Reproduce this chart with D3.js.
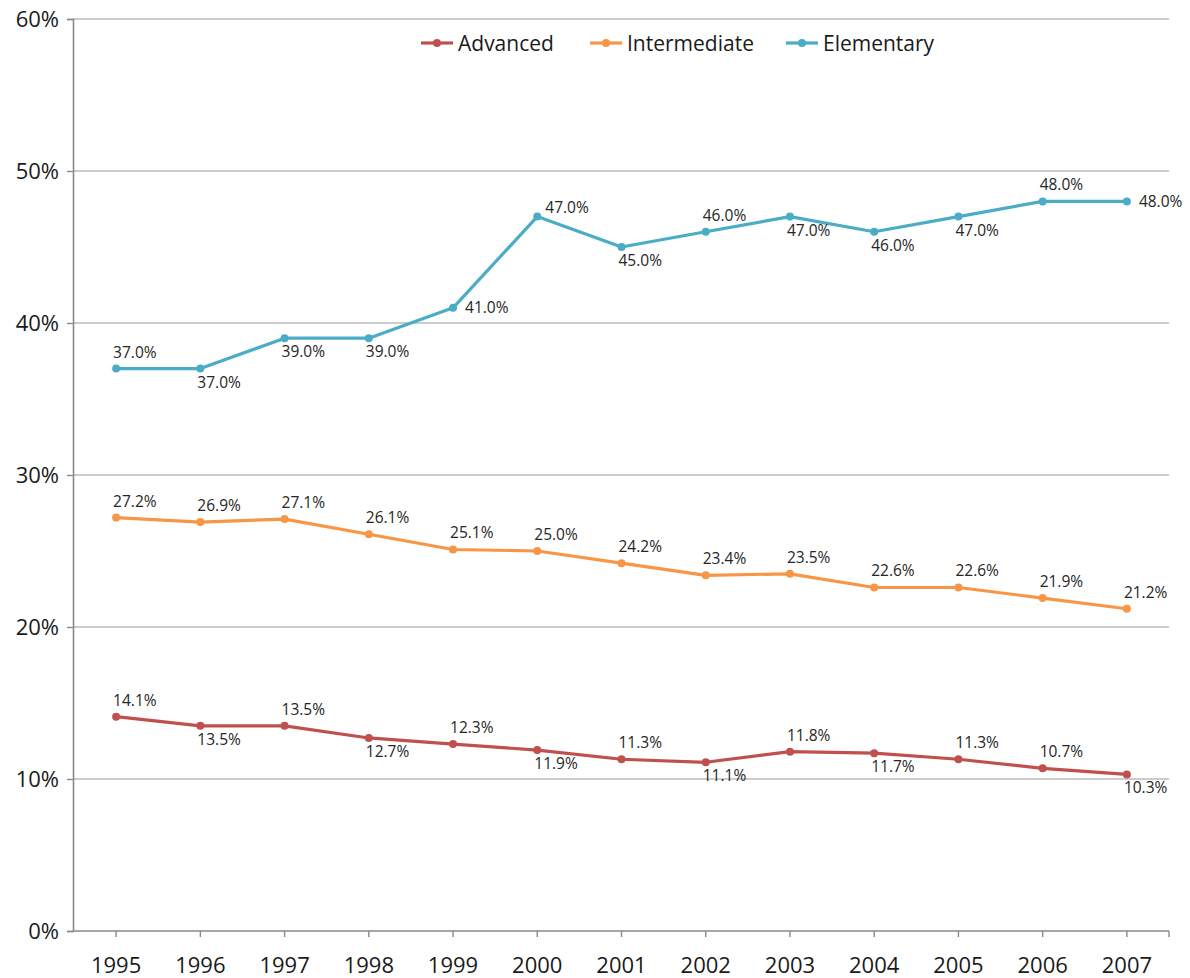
<!DOCTYPE html>
<html>
<head>
<meta charset="utf-8">
<script src="https://cdn.jsdelivr.net/npm/d3@7"></script>
<style>
  html, body { margin: 0; padding: 0; background: #fff; }
  svg { display: block; font-family: "Open Sans", "Noto Sans", sans-serif; }
</style>
</head>
<body>
<svg id="chart" width="1190" height="978"></svg>
<script>
const years = ["1995","1996","1997","1998","1999","2000","2001","2002","2003","2004","2005","2006","2007"];
const seriesNames = ["Advanced", "Intermediate", "Elementary"];
const advanced     = [14.1, 13.5, 13.5, 12.7, 12.3, 11.9, 11.3, 11.1, 11.8, 11.7, 11.3, 10.7, 10.3];
const intermediate = [27.2, 26.9, 27.1, 26.1, 25.1, 25.0, 24.2, 23.4, 23.5, 22.6, 22.6, 21.9, 21.2];
const elementary   = [37.0, 37.0, 39.0, 39.0, 41.0, 47.0, 45.0, 46.0, 47.0, 46.0, 47.0, 48.0, 48.0];
// label placement: t = above, b = below, r = right, tr = upper right
const advancedLabelPos     = ["t","b","t","b","t","b","t","b","t","b","t","t","b"];
const intermediateLabelPos = ["t","t","t","t","t","t","t","t","t","t","t","t","t"];
const elementaryLabelPos   = ["t","b","b","b","r","tr","b","t","b","b","b","t","r"];
const yTicks = [0, 10, 20, 30, 40, 50, 60];
const colors = ["#C0504D", "#F79646", "#4BACC6"];

(function () {
const series = [
  { name: seriesNames[0], values: advanced, pos: advancedLabelPos, color: colors[0] },
  { name: seriesNames[1], values: intermediate, pos: intermediateLabelPos, color: colors[1] },
  { name: seriesNames[2], values: elementary, pos: elementaryLabelPos, color: colors[2] }
];

const svg = d3.select("#chart");
const mLeft = 73, mRight = 1169, mTop = 19, mBottom = 931;

const x = d3.scaleBand().domain(years).range([mLeft + 1, mRight]).padding(0);
const cx = d => x(d) + x.bandwidth() / 2;
const y = d3.scaleLinear().domain([0, 60]).range([mBottom, mTop]);

// gridlines
svg.append("g").selectAll("line").data(yTicks.filter(t => t > 0)).join("line")
  .attr("x1", mLeft).attr("x2", mRight)
  .attr("y1", d => y(d)).attr("y2", d => y(d))
  .attr("stroke", "#9a9a9a").attr("stroke-width", 1.2);

// y axis
const yAxis = d3.axisLeft(y).tickValues(yTicks).tickFormat(d => d + "%").tickSize(6).tickPadding(8);
const gy = svg.append("g").attr("transform", `translate(${mLeft},0)`).call(yAxis);
gy.select(".domain").attr("stroke", "#8a8a8a").attr("stroke-width", 1.6);
gy.selectAll(".tick line").attr("stroke", "#8a8a8a").attr("stroke-width", 1.4);
gy.selectAll(".tick text").attr("font-size", 22).attr("fill", "#1a1a1a")
  .attr("font-family", "'Open Sans', 'Noto Sans', sans-serif");

// x axis
const gx = svg.append("g").attr("transform", `translate(0,${mBottom})`);
gx.append("line").attr("x1", mLeft).attr("x2", mRight).attr("y1", 0).attr("y2", 0)
  .attr("stroke", "#8a8a8a").attr("stroke-width", 1.6);
const tickXs = years.map(cx).concat([mRight]);
gx.selectAll("line.tk").data(tickXs).join("line").attr("class", "tk")
  .attr("x1", d => d).attr("x2", d => d).attr("y1", 0).attr("y2", 6)
  .attr("stroke", "#8a8a8a").attr("stroke-width", 1.4);
gx.selectAll("text").data(years).join("text")
  .attr("x", d => cx(d)).attr("y", 42)
  .attr("text-anchor", "middle").attr("font-size", 22).attr("fill", "#1a1a1a")
  .text(d => d);

// lines
const line = d3.line().x((d, i) => cx(years[i])).y(d => y(d));
series.forEach(s => {
  const g = svg.append("g");
  g.append("path").datum(s.values).attr("d", line)
    .attr("fill", "none").attr("stroke", s.color).attr("stroke-width", 3.2)
    .attr("stroke-linejoin", "round");
  g.selectAll("circle").data(s.values).join("circle")
    .attr("cx", (d, i) => cx(years[i])).attr("cy", d => y(d)).attr("r", 4)
    .attr("fill", s.color);
  g.selectAll("text").data(s.values).join("text")
    .attr("font-size", 15.5).attr("fill", "#262626")
    .attr("x", (d, i) => {
      const p = s.pos[i], px = cx(years[i]);
      if (p === "r") return px + 12;
      if (p === "tr") return px + 8;
      return px - 3;
    })
    .attr("y", (d, i) => {
      const p = s.pos[i], py = y(d);
      if (p === "t") return py - 11;
      if (p === "b") return py + 19;
      if (p === "r") return py + 5.5;
      if (p === "tr") return py - 4;
      return py;
    })
    .text(d => d.toFixed(1) + "%");
});

// legend
const legendItems = [
  { name: seriesNames[0], color: colors[0], x: 421 },
  { name: seriesNames[1], color: colors[1], x: 590 },
  { name: seriesNames[2], color: colors[2], x: 786 }
];
const lg = svg.append("g").attr("transform", "translate(0,43)");
legendItems.forEach(it => {
  lg.append("line").attr("x1", it.x).attr("x2", it.x + 32).attr("y1", 0).attr("y2", 0)
    .attr("stroke", it.color).attr("stroke-width", 3.2);
  lg.append("circle").attr("cx", it.x + 16).attr("cy", 0).attr("r", 4).attr("fill", it.color);
  lg.append("text").attr("x", it.x + 37).attr("y", 7.5).attr("font-size", 21)
    .attr("fill", "#1a1a1a").text(it.name);
});
})();
</script>
</body>
</html>
